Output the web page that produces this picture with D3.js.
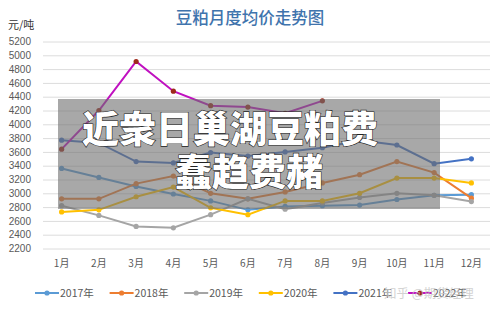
<!DOCTYPE html>
<html>
<head>
<meta charset="utf-8">
<script src="https://cdn.jsdelivr.net/npm/d3@7"></script>
<style>
  body { margin: 0; background: #fff; }
  text { font-family: "Noto Sans CJK SC", "Noto Sans", sans-serif; }
</style>
</head>
<body>
<script>
var width = 500,
	height = 310;

// data
var months = ["1月", "2月", "3月", "4月", "5月", "6月", "7月", "8月", "9月", "10月", "11月", "12月"];
var years = ["2017年", "2018年", "2019年", "2020年", "2021年", "2022年"];
var colors = ["#5b9bd5", "#ed7d31", "#a5a5a5", "#ffc000", "#4472c4", "#c010c0"];
var markerColors = ["#5b9bd5", "#ed7d31", "#a5a5a5", "#ffc000", "#4472c4", "#9e2a1b"];
var yTicks = [2200, 2400, 2600, 2800, 3000, 3200, 3400, 3600, 3800, 4000, 4200, 4400, 4600, 4800, 5000, 5200];

var v2017 = [3360, 3230, 3100, 2990, 2890, 2760, 2810, 2820, 2830, 2910, 2970, 2980];
var v2018 = [2920, 2920, 3140, 3250, 3000, 2920, 3020, 3150, 3270, 3460, 3300, 2930];
var v2019 = [2820, 2680, 2520, 2500, 2690, 2920, 2770, 2860, 2940, 3000, 2970, 2880];
var v2020 = [2730, 2760, 2950, 3090, 2790, 2690, 2890, 2890, 3000, 3220, 3220, 3150];
var v2021 = [3770, 3730, 3460, 3440, 3590, 3540, 3600, 3660, 3770, 3700, 3430, 3500];
var v2022 = [3640, 4200, 4910, 4480, 4270, 4250, 4160, 4340];

var series = [v2017, v2018, v2019, v2020, v2021, v2022];

var svg = d3.select("body").append("svg")
	.attr("width", width)
	.attr("height", height);

var x = d3.scaleBand()
	.domain(months)
	.range([43, 490]);

var y = d3.scaleLinear()
	.domain([2200, 5200])
	.range([248.5, 41.5]);

function cx(i) { return x(months[i]) + x.bandwidth() / 2; }

// title
svg.append("text")
	.attr("x", 250)
	.attr("y", 24)
	.attr("text-anchor", "middle")
	.attr("fill", "#3f74ad")
	.attr("font-size", 16.5)
	.attr("font-weight", 500)
	.text("豆粕月度均价走势图");

svg.append("text")
	.attr("x", 8)
	.attr("y", 29)
	.attr("fill", "#333")
	.attr("font-size", 11)
	.text("元/吨");

// grid + y axis
var yAxis = d3.axisLeft(y)
	.tickValues(yTicks)
	.tickFormat(d3.format("d"))
	.tickSize(-(490 - 43))
	.tickPadding(12);

var gy = svg.append("g")
	.attr("transform", "translate(43,0)")
	.call(yAxis);
gy.select(".domain").remove();
gy.selectAll(".tick line").attr("stroke", "#dcdcdc");
gy.selectAll(".tick text")
	.attr("fill", "#595959")
	.attr("font-size", 10)
	.style("font-family", "'Liberation Sans', Arial, sans-serif");

// x labels
var xAxis = d3.axisBottom(x).tickSize(0).tickPadding(0);
var gx = svg.append("g")
	.attr("transform", "translate(0,260)")
	.call(xAxis);
gx.select(".domain").remove();
gx.selectAll(".tick text")
	.attr("fill", "#595959")
	.attr("font-size", 10);

// lines
var line = d3.line()
	.x(function(d, i) { return cx(i); })
	.y(function(d) { return y(d); });

series.forEach(function(s, k) {
	svg.append("path")
		.datum(s)
		.attr("fill", "none")
		.attr("stroke", colors[k])
		.attr("stroke-width", 2)
		.attr("d", line);

	svg.selectAll(".m" + k)
		.data(s)
		.enter().append("circle")
		.attr("cx", function(d, i) { return cx(i); })
		.attr("cy", function(d) { return y(d); })
		.attr("r", 2.6)
		.attr("fill", markerColors[k]);
});

// legend
var legend = svg.append("g").attr("transform", "translate(35,293)");
years.forEach(function(name, k) {
	var g = legend.append("g").attr("transform", "translate(" + (k * 74.6) + ",0)");
	g.append("line")
		.attr("x1", 0).attr("x2", 24)
		.attr("stroke", colors[k])
		.attr("stroke-width", 2);
	g.append("circle")
		.attr("cx", 12).attr("r", 2.6)
		.attr("fill", markerColors[k]);
	g.append("text")
		.attr("x", 25)
		.attr("y", 4)
		.attr("fill", "#595959")
		.attr("font-size", 10.5)
		.text(name);
});

// watermark
svg.append("text")
	.attr("x", 384)
	.attr("y", 298)
	.attr("fill", "#c8c8c8")
	.attr("opacity", 0.8)
	.attr("font-size", 12.5)
	.text("知乎 @期货经理");

// grey overlay with caption
svg.append("rect")
	.attr("x", 58)
	.attr("y", 99)
	.attr("width", 382)
	.attr("height", 110)
	.attr("fill", "#6e6e6e")
	.attr("opacity", 0.6);

var cap = svg.append("g")
	.attr("fill", "#fff")
	.attr("stroke", "#222")
	.attr("stroke-width", 1.2)
	.attr("paint-order", "stroke")
	.attr("font-weight", 900)
	.attr("font-size", 37)
	.attr("text-anchor", "middle");

cap.append("text")
	.attr("x", 230)
	.attr("y", 143)
	.text("近衆日巢湖豆粕费");

cap.append("text")
	.attr("x", 249)
	.attr("y", 186)
	.text("蠢趋费赭");
</script>
</body>
</html>
